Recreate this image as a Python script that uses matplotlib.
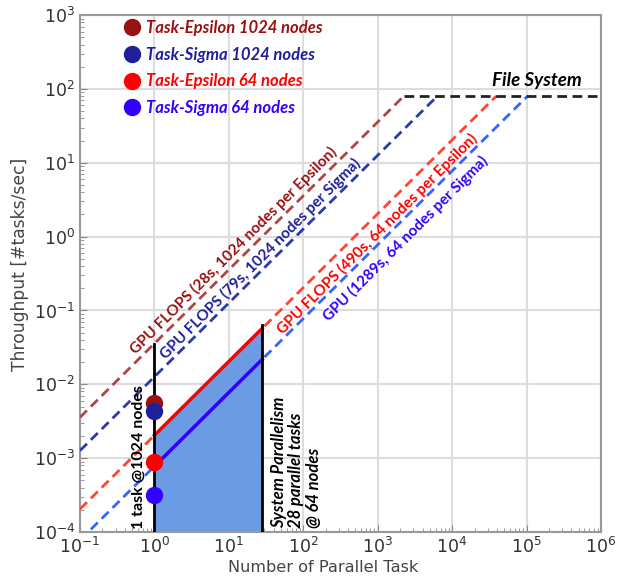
import matplotlib
matplotlib.use("Agg")
import matplotlib.pyplot as plt
import numpy as np

# chart values
task_names = ["Task-Epsilon 1024 nodes", "Task-Sigma 1024 nodes",
              "Task-Epsilon 64 nodes", "Task-Sigma 64 nodes"]
task_seconds = [28, 79, 490, 1289]
measured_throughput = [5.5e-3, 4.3e-3, 9.0e-4, 3.2e-4]
dot_colors = ["#991111", "#1f1f99", "#ff0000", "#3300ff"]
dash_colors = ["#b04545", "#2a3aa8", "#ff4433", "#3366ff"]
gpu_labels = ["GPU FLOPS (28s, 1024 nodes per Epsilon)",
              "GPU FLOPS (79s, 1024 nodes per Sigma)",
              "GPU FLOPS (490s, 64 nodes per Epsilon)",
              "GPU (1289s, 64 nodes per Sigma)"]
label_pos = [(11.5, 0.65), (26.5, 0.50), (980, 1.08), (2366, 0.94)]
file_system_limit = 80
parallel_tasks = 28
x_lim = (1e-1, 1e6)
y_lim = (1e-4, 1e3)

ann_font = "Lato"

fig = plt.figure(figsize=(6.17, 5.83), dpi=100)
ax = fig.add_axes([0.1297, 0.0875, 0.8443, 0.8865])
ax.set_xscale("log")
ax.set_yscale("log")
ax.set_xlim(*x_lim)
ax.set_ylim(*y_lim)

# GPU FLOPS limits, capped by the file system
for t, c in zip(task_seconds, dash_colors):
    x_cap = file_system_limit * t
    ax.plot([x_lim[0], x_cap], [x_lim[0] / t, file_system_limit],
            color=c, lw=2, ls=(0, (3.5, 2)), zorder=3)

# file system line
x_fs = file_system_limit * task_seconds[0]
ax.plot([x_fs, x_lim[1]], [file_system_limit, file_system_limit],
        color="#222222", lw=2, ls=(0, (3.5, 2)), zorder=3)

# system parallelism region (64 nodes)
xs = np.array([1, parallel_tasks])
ax.fill_between(xs, xs / task_seconds[2], y_lim[0], color="#6a9be3", zorder=2)
ax.plot(xs, xs / task_seconds[2], color="#ff0000", lw=2.5, zorder=4)
ax.plot(xs, xs / task_seconds[3], color="#3300ff", lw=2.5, zorder=4)
ax.plot([1, 1], [y_lim[0], 1 / task_seconds[0]], color="black", lw=2, zorder=5)
ax.plot([parallel_tasks, parallel_tasks],
        [y_lim[0], parallel_tasks / task_seconds[2] * 1.1],
        color="black", lw=2, zorder=5)

# measured points
handles = []
for name, v, c in zip(task_names, measured_throughput, dot_colors):
    h, = ax.plot([1], [v], "o", color=c, ms=11.5, label=name, zorder=6,
                 clip_on=False)
    handles.append(h)

leg = ax.legend(handles=handles, loc="upper left", frameon=False,
                bbox_to_anchor=(0.0465, 1.02), handletextpad=0.1,
                labelspacing=0.65, handlelength=1.5,
                prop={"family": ann_font, "weight": "bold",
                      "style": "italic", "size": 12})
for txt, c in zip(leg.get_texts(), dot_colors):
    txt.set_color(c)

# labels on the lines
for lab, (lx, ly), c in zip(gpu_labels, label_pos, dot_colors):
    ax.text(lx, ly, lab, color=c, rotation=45, rotation_mode="anchor",
            ha="center", va="center", fontsize=11, fontweight="bold",
            family=ann_font, zorder=7)

ax.text(5.6e5, 100, "File System", ha="right", va="bottom", fontsize=13.5,
        fontweight="bold", fontstyle="italic", family=ann_font)
ax.text(0.77, 1.1e-4, "1 task @1024 nodes", rotation=90, ha="right",
        va="bottom", fontsize=11.5, fontweight="bold", family=ann_font)
ax.text(37, 1.15e-4, "System Parallelism\n28 parallel tasks\n@ 64 nodes",
        rotation=90, ha="left", va="bottom", fontsize=12, fontweight="bold",
        fontstyle="italic", family=ann_font, multialignment="left",
        linespacing=1.1)

ax.grid(True, which="major", color="#dddddd", lw=1.5, zorder=0)
ax.set_axisbelow(True)
for s in ax.spines.values():
    s.set_color("#999999")
    s.set_linewidth(1.5)
ax.tick_params(which="both", direction="in", colors="#888888",
               labelcolor="#333333", labelsize=12.5)
ax.tick_params(which="major", length=5)
ax.tick_params(which="minor", length=3)
ax.set_xlabel("Number of Parallel Task", fontsize=11.6, color="#444444")
ax.set_ylabel("Throughput [#tasks/sec]", fontsize=12.3, color="#444444")
ax.xaxis.set_label_coords(0.466, -0.055)
ax.yaxis.set_label_coords(-0.098, 0.518)

fig.savefig("out.png", dpi=100)
